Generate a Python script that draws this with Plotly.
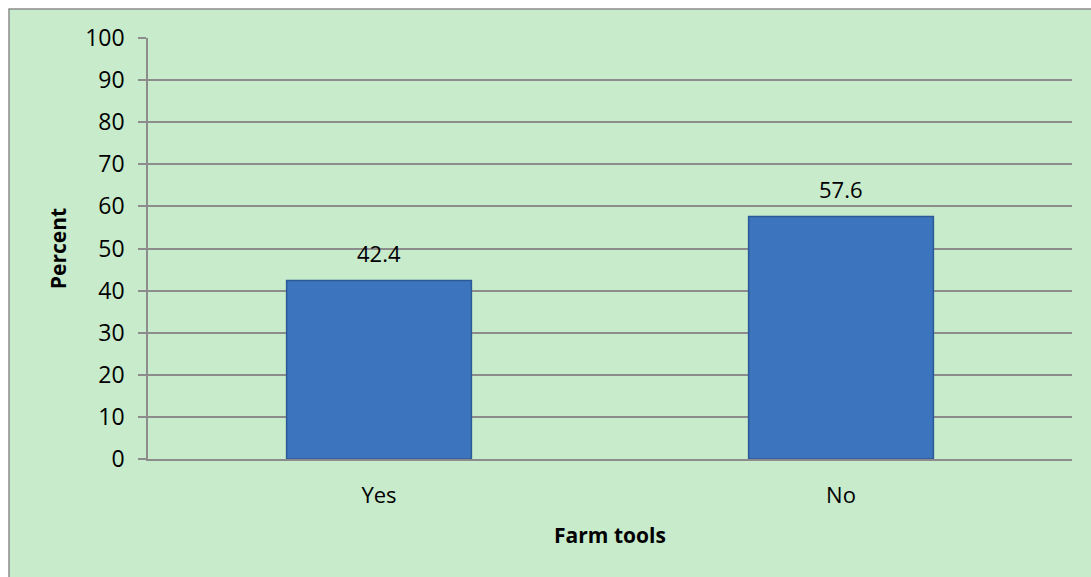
import plotly.graph_objects as go

categories = ["Yes", "No"]
values = [42.4, 57.6]
y_ticks = [0, 10, 20, 30, 40, 50, 60, 70, 80, 90, 100]

W, H = 1091, 577
L, R, T, B = 148, 19, 38, 118
pw, ph = W - L - R, H - T - B

FONT = "Open Sans, Liberation Sans, sans-serif"

fig = go.Figure()
fig.add_trace(go.Bar(
    x=categories, y=values, width=0.40,
    marker=dict(color="#3C74BE", line=dict(color="#2C5A96", width=1.5)),
    hoverinfo="skip",
))

for c, v in zip(categories, values):
    fig.add_annotation(x=c, y=v, text=f"{v}", showarrow=False, yanchor="bottom",
                       yshift=11, font=dict(family=FONT, size=22, color="#000"))

def px_x(x):
    return (x - L) / pw

def px_y(y):
    return (H - B - y) / ph

# outer chart-area background with border
fig.add_shape(type="rect", xref="paper", yref="paper",
              x0=px_x(9), x1=px_x(1100), y0=px_y(590), y1=px_y(9),
              fillcolor="#C7EBCB", line=dict(color="#8C8C8C", width=1.5), layer="below")

fig.update_layout(
    width=W, height=H,
    margin=dict(l=L, r=R, t=T, b=B),
    paper_bgcolor="white", plot_bgcolor="rgba(0,0,0,0)",
    showlegend=False,
    bargap=0.6,
    font=dict(family=FONT, size=22, color="#000"),
)
fig.update_yaxes(
    range=[0, 100], tickvals=y_ticks, ticks="outside", ticklen=8, tickwidth=1.5,
    tickcolor="#8C8C8C", showline=True, linecolor="#8C8C8C", linewidth=1.5,
    showgrid=True, gridcolor="#8C8C8C", gridwidth=1.5, zeroline=False,
    ticklabelstandoff=9,
    tickfont=dict(family=FONT, size=23),
    title=dict(text="<b>Percent</b>", font=dict(family=FONT, size=21), standoff=13),
)
fig.update_xaxes(
    showline=True, linecolor="#8C8C8C", linewidth=1.5, ticks="",
    tickfont=dict(family=FONT, size=22), ticklabelstandoff=16,
    title=dict(text="<b>Farm tools</b>", font=dict(family=FONT, size=21), standoff=20),
)

fig.write_html("out.html")
